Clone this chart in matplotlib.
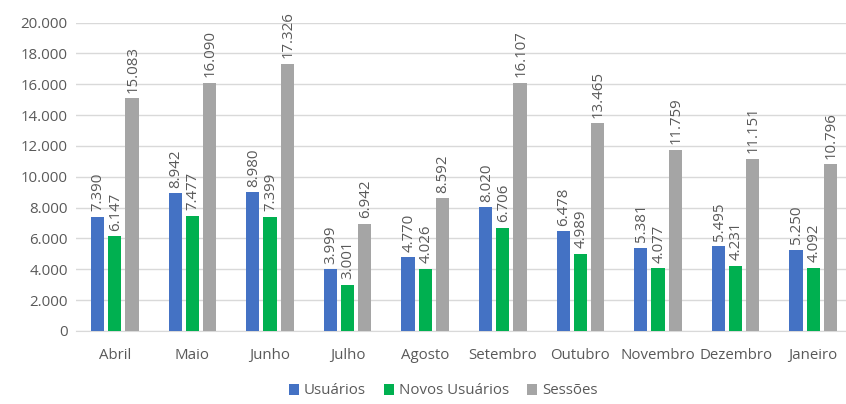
import numpy as np
import matplotlib
matplotlib.use("Agg")
import matplotlib.pyplot as plt
from matplotlib.ticker import FuncFormatter

# Dados
meses = ["Abril", "Maio", "Junho", "Julho", "Agosto", "Setembro",
         "Outubro", "Novembro", "Dezembro", "Janeiro"]
usuarios = [7390, 8942, 8980, 3999, 4770, 8020, 6478, 5381, 5495, 5250]
novos_usuarios = [6147, 7477, 7399, 3001, 4026, 6706, 4989, 4077, 4231, 4092]
sessoes = [15083, 16090, 17326, 6942, 8592, 16107, 13465, 11759, 11151, 10796]

series = [
    ("Usuários", usuarios, "#4472C4"),
    ("Novos Usuários", novos_usuarios, "#00B050"),
    ("Sessões", sessoes, "#A5A5A5"),
]

plt.rcParams['font.family'] = ['Open Sans', 'DejaVu Sans']
txt = "#595959"


def br(v):
    return f"{int(v):,}".replace(",", ".")


fig = plt.figure(figsize=(8.46, 4.04), dpi=100)
ax = fig.add_axes([76 / 846, 73 / 404, 776 / 846, 308.5 / 404])

x = np.arange(len(meses))
width = 0.171
step = 0.222

for i, (nome, vals, cor) in enumerate(series):
    pos = x + (i - 1) * step
    bars = ax.bar(pos, vals, width, color=cor, label=nome, zorder=3)
    for b, v in zip(bars, vals):
        ax.annotate(br(v), (b.get_x() + b.get_width() / 2, b.get_height()),
                    xytext=(0.5, 4), textcoords="offset points",
                    ha="center", va="bottom", rotation=90,
                    fontsize=10.8, color=txt)

ax.set_xlim(-0.5, len(meses) - 0.5)
ax.set_ylim(0, 20000)
ax.set_yticks(np.arange(0, 20001, 2000))
ax.yaxis.set_major_formatter(FuncFormatter(lambda v, p: br(v)))
ax.set_xticks(x)
ax.set_xticklabels(meses)
ax.tick_params(axis="both", length=0, labelsize=10.8, colors=txt)
ax.tick_params(axis="x", pad=12)
ax.tick_params(axis="y", pad=6)
ax.grid(axis="y", color="#D9D9D9", linewidth=1, zorder=0)
for s in ["top", "right", "left"]:
    ax.spines[s].set_visible(False)
ax.spines["bottom"].set_color("#D9D9D9")

fig.legend(loc="center", bbox_to_anchor=(443 / 846, 1 - 391 / 404), ncol=3,
           frameon=False, fontsize=10.8, labelcolor=txt,
           handlelength=0.7, handleheight=0.7, handletextpad=0.3,
           columnspacing=1.2)

fig.savefig("out.png", dpi=100)
